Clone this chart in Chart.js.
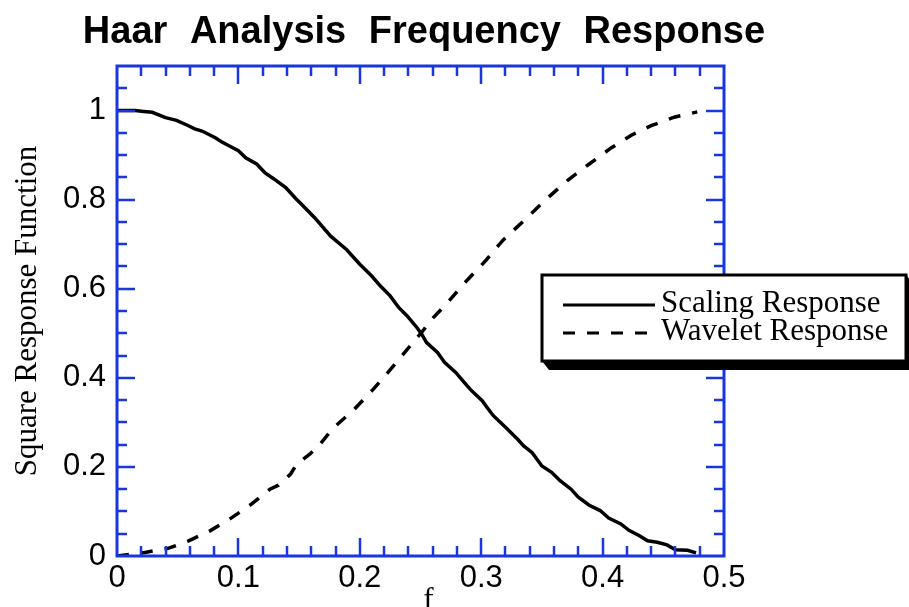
<!DOCTYPE html>
<html>
<head>
<meta charset="utf-8">
<title>Haar Analysis Frequency Response</title>
<script src="https://cdn.jsdelivr.net/npm/chart.js@4.4.0/dist/chart.umd.min.js"></script>
<style>
  html, body { margin: 0; padding: 0; background: #fff; }
  #wrap { width: 909px; height: 607px; }
</style>
</head>
<body>
<div id="wrap"><canvas id="myChart"></canvas></div>
<script>
// Haar filter squared magnitude, scaling (low pass) and wavelet (high pass)
var scalingFreq = [0, 0.015, 0.022, 0.029, 0.040, 0.049, 0.058, 0.064, 0.070, 0.081,
    0.086, 0.093, 0.100, 0.106, 0.115, 0.122, 0.129, 0.139, 0.147, 0.155,
    0.163, 0.176, 0.189, 0.200, 0.210, 0.217, 0.225, 0.232, 0.239, 0.247,
    0.251, 0.255, 0.264, 0.270, 0.279, 0.286, 0.291, 0.301, 0.305, 0.310,
    0.320, 0.330, 0.335, 0.342, 0.350, 0.358, 0.365, 0.374, 0.380, 0.389,
    0.398, 0.405, 0.415, 0.422, 0.430, 0.437, 0.445, 0.453, 0.460, 0.470, 0.477];
var scalingValues = [1.000, 1.000, 0.998, 0.996, 0.984, 0.978, 0.967, 0.959, 0.954, 0.939,
    0.930, 0.920, 0.910, 0.894, 0.880, 0.860, 0.847, 0.827, 0.803, 0.781,
    0.759, 0.718, 0.688, 0.655, 0.628, 0.606, 0.584, 0.558, 0.539, 0.513,
    0.498, 0.479, 0.457, 0.434, 0.412, 0.390, 0.374, 0.348, 0.333, 0.315,
    0.289, 0.262, 0.247, 0.232, 0.202, 0.188, 0.169, 0.150, 0.132, 0.114,
    0.102, 0.085, 0.072, 0.057, 0.046, 0.034, 0.031, 0.025, 0.014, 0.013, 0.007];

var waveletFreq = [0, 0.023, 0.042, 0.059, 0.077, 0.094, 0.111, 0.126, 0.133, 0.143,
    0.148, 0.159, 0.166, 0.178, 0.195, 0.211, 0.226, 0.241, 0.253, 0.258,
    0.271, 0.286, 0.303, 0.318, 0.336, 0.354, 0.371, 0.389, 0.407, 0.424,
    0.440, 0.459, 0.478];
var waveletValues = [0, 0.008, 0.017, 0.034, 0.057, 0.085, 0.117, 0.150, 0.159, 0.184,
    0.206, 0.229, 0.247, 0.287, 0.328, 0.374, 0.421, 0.470, 0.509, 0.528,
    0.565, 0.612, 0.661, 0.709, 0.755, 0.802, 0.843, 0.880, 0.916, 0.945,
    0.966, 0.985, 0.997];

var seriesNames = ["Scaling Response", "Wavelet Response"];

var xTickValues = [0, 0.1, 0.2, 0.3, 0.4, 0.5];
var xTickLabels = ["0", "0.1", "0.2", "0.3", "0.4", "0.5"];
var yTickValues = [0, 0.2, 0.4, 0.6, 0.8, 1];
var yTickLabels = ["0", "0.2", "0.4", "0.6", "0.8", "1"];

var chartTitle = "Haar Analysis Frequency Response";
var xTitle = "f";
var yTitle = "Square Response Function";

var BLUE = '#1a36de';
var SANS = '"Liberation Sans", Arial, sans-serif';
var SERIF = '31px "Liberation Serif", "Times New Roman", serif';

function toPoints(xs, ys) {
    return xs.map(function (x, i) { return { x: x, y: ys[i] }; });
}

// frame with inward ticks on all four sides, legend box, titles
var framePlugin = {
    id: 'haarFrame',
    afterDatasetsDraw: function (chart) {
        var ctx = chart.ctx;
        var a = chart.chartArea;
        var xs = chart.scales.x, ys = chart.scales.y;
        ctx.save();
        ctx.strokeStyle = BLUE;
        ctx.lineWidth = 3;
        ctx.strokeRect(a.left, a.top, a.right - a.left, a.bottom - a.top);

        ctx.lineWidth = 2.5;
        ctx.beginPath();
        // x ticks every 0.02, long ones every 0.1
        for (var i = 1; i < 25; i++) {
            var px = Math.round(xs.getPixelForValue(i * 0.02));
            var len = (i % 5 == 0) ? 18 : 10;
            ctx.moveTo(px, a.bottom); ctx.lineTo(px, a.bottom - len);
            ctx.moveTo(px, a.top); ctx.lineTo(px, a.top + len);
        }
        // y ticks every 0.05, long ones every 0.2
        for (var j = 1; j <= 21; j++) {
            var py = Math.round(ys.getPixelForValue(j * 0.05));
            var ylen = (j % 4 == 0) ? 18 : 10;
            ctx.moveTo(a.left, py); ctx.lineTo(a.left + ylen, py);
            ctx.moveTo(a.right, py); ctx.lineTo(a.right - ylen, py);
        }
        ctx.stroke();
        ctx.restore();
    },
    afterDraw: function (chart) {
        var ctx = chart.ctx;
        var a = chart.chartArea;
        ctx.save();

        // legend with drop shadow
        var L = 542, T = 275, R = 906, B = 361;
        ctx.fillStyle = '#000';
        ctx.beginPath();
        ctx.moveTo(L, B);
        ctx.lineTo(L + 7, B + 9);
        ctx.lineTo(R + 8, B + 9);
        ctx.lineTo(R + 8, T + 9);
        ctx.lineTo(R, T);
        ctx.closePath();
        ctx.fill();
        ctx.fillStyle = '#fff';
        ctx.fillRect(L, T, R - L, B - T);
        ctx.strokeStyle = '#000';
        ctx.lineWidth = 3;
        ctx.strokeRect(L, T, R - L, B - T);

        var rows = [305, 333];
        chart.data.datasets.forEach(function (ds, k) {
            ctx.beginPath();
            ctx.lineWidth = 3;
            ctx.setLineDash(ds.borderDash || []);
            ctx.moveTo(563, rows[k]);
            ctx.lineTo(655, rows[k]);
            ctx.stroke();
            ctx.setLineDash([]);
            ctx.fillStyle = '#000';
            ctx.font = SERIF;
            ctx.textAlign = 'left';
            ctx.textBaseline = 'alphabetic';
            ctx.fillText(ds.label, 661, rows[k] + 7);
        });

        // chart title
        ctx.fillStyle = '#000';
        ctx.font = 'bold 38px ' + SANS;
        ctx.textAlign = 'center';
        ctx.textBaseline = 'alphabetic';
        if ('wordSpacing' in ctx) ctx.wordSpacing = '12px';
        ctx.fillText(chartTitle, 424, 43);
        if ('wordSpacing' in ctx) ctx.wordSpacing = '0px';

        // axis titles
        ctx.font = SERIF;
        ctx.fillText(xTitle, (a.left + a.right) / 2 + 8, 609);
        ctx.translate(28, (a.top + a.bottom) / 2);
        ctx.rotate(-Math.PI / 2);
        ctx.textBaseline = 'middle';
        ctx.fillText(yTitle, 0, 0);
        ctx.restore();
    }
};

var ctx = document.getElementById('myChart').getContext('2d');
var chart = new Chart(ctx, {
    type: 'line',
    data: {
        datasets: [{
            label: seriesNames[0],
            data: toPoints(scalingFreq, scalingValues),
            borderColor: '#000',
            borderWidth: 3.5,
            pointRadius: 0,
            tension: 0
        }, {
            label: seriesNames[1],
            data: toPoints(waveletFreq, waveletValues),
            borderColor: '#000',
            borderWidth: 3.5,
            borderDash: [12, 12],
            pointRadius: 0,
            tension: 0
        }]
    },
    options: {
        responsive: true,
        maintainAspectRatio: false,
        animation: false,
        devicePixelRatio: 1,
        layout: { padding: { top: 66, right: 185, left: 0, bottom: 0 } },
        plugins: {
            legend: { display: false },
            tooltip: { enabled: false },
            title: { display: false }
        },
        scales: {
            x: {
                type: 'linear',
                min: 0,
                max: 0.5,
                afterBuildTicks: function (s) { s.ticks = xTickValues.map(function (v) { return { value: v }; }); },
                afterFit: function (s) { s.height = 51; },
                grid: { display: false, drawTicks: false },
                border: { display: false },
                ticks: {
                    autoSkip: false,
                    maxRotation: 0,
                    padding: 4,
                    color: '#000',
                    font: { family: SANS, size: 31 },
                    callback: function (v, i) { return xTickLabels[i]; }
                }
            },
            y: {
                min: 0,
                max: 1.1,
                afterBuildTicks: function (s) { s.ticks = yTickValues.map(function (v) { return { value: v }; }); },
                afterFit: function (s) { s.width = 117; },
                grid: { display: false, drawTicks: false },
                border: { display: false },
                ticks: {
                    autoSkip: false,
                    padding: 11,
                    color: '#000',
                    font: { family: SANS, size: 31 },
                    callback: function (v, i) { return yTickLabels[i]; }
                }
            }
        }
    },
    plugins: [framePlugin]
});
</script>
</body>
</html>
